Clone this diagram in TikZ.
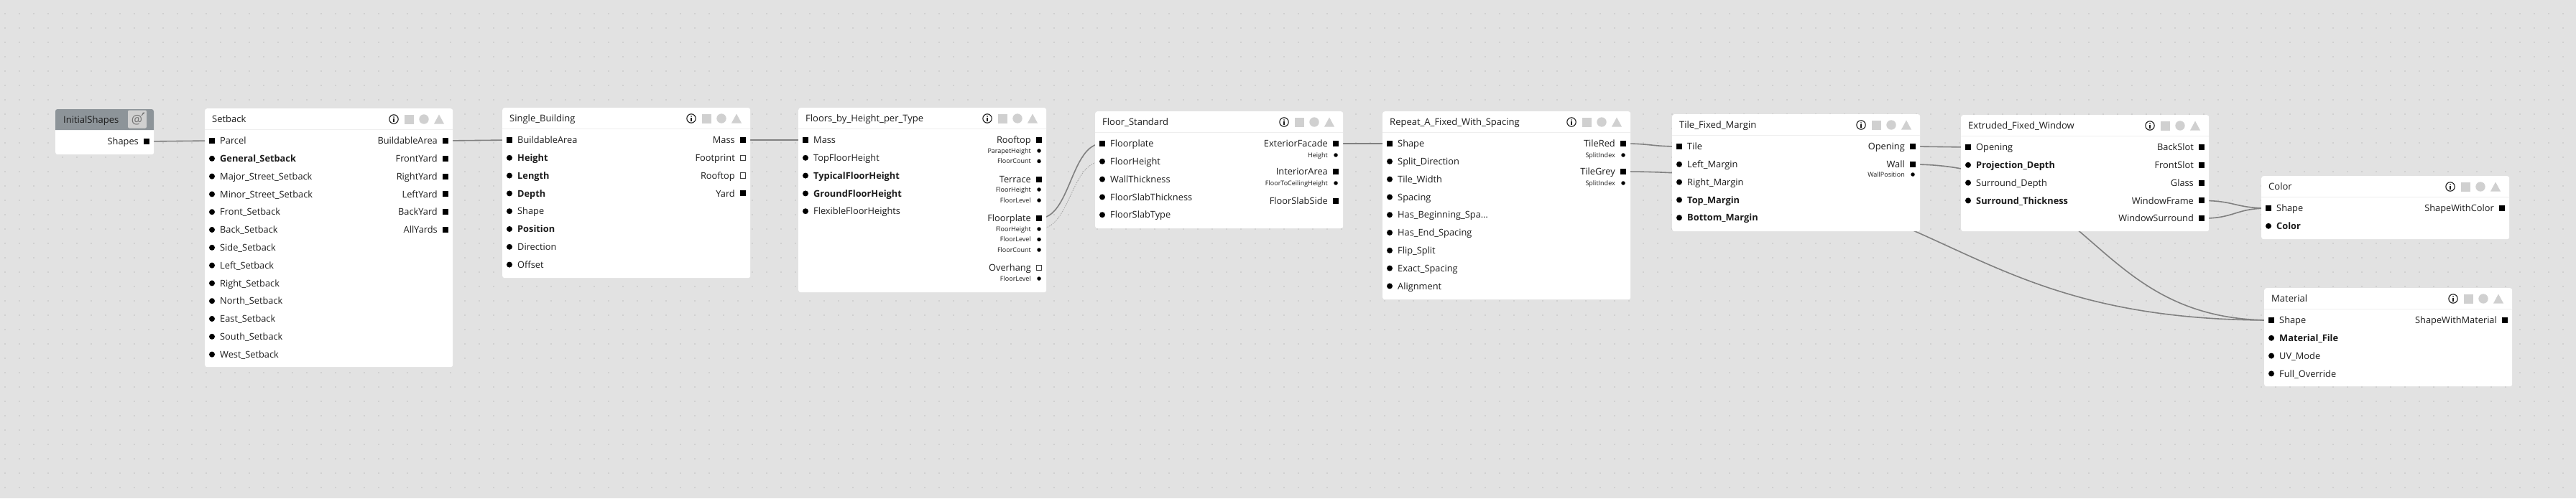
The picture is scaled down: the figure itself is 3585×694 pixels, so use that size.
\documentclass[tikz,border=0pt]{standalone}
\usepackage{fontspec}
\setmainfont{Open Sans}
\usetikzlibrary{positioning, arrows.meta}
\definecolor{CanvasGrey}{RGB}{226, 226, 226}
\definecolor{GridDot}{RGB}{184, 184, 184}
\definecolor{WireGrey}{RGB}{128, 128, 128}
\definecolor{IconGrey}{RGB}{208, 208, 208}
\definecolor{InkBlack}{RGB}{28, 28, 28}
\definecolor{HeadGrey}{RGB}{141, 148, 153}
\definecolor{RuleGrey}{RGB}{238, 238, 238}
\newcommand\rowfont{\fontsize{12.8}{15}\selectfont}
\newcommand\subfont{\fontsize{9}{11}\selectfont}
\newcommand\ttlfont{\fontsize{13}{15}\selectfont}
\pgfdeclarelayer{canvas}
\pgfdeclarelayer{wires}
\pgfsetlayers{canvas,wires,main}

\tikzset{
  panel/.style={fill=white, rounded corners=3pt, anchor=north west, minimum width=345, inner sep=0pt},
  ttl/.style={anchor=west, inner sep=0pt, font=\ttlfont, text=InkBlack, text height=9.3, text depth=0},
  inlbl/.style={anchor=west, inner sep=0pt, font=\rowfont, text=InkBlack, text height=9.2, text depth=0},
  outlbl/.style={anchor=east, inner sep=0pt, font=\rowfont, text=InkBlack, text height=9.2, text depth=0},
  sublbl/.style={anchor=east, inner sep=0pt, font=\subfont, text=InkBlack, text height=6.5, text depth=0},
  port/.style={rectangle, fill=black, minimum size=8, inner sep=0pt},
  emptyport/.style={rectangle, draw=black!75, fill=white, line width=0.8, minimum size=7.5, inner sep=0pt},
  dot/.style={circle, fill=black, minimum size=8, inner sep=0pt},
  subdot/.style={circle, fill=black, minimum size=5.5, inner sep=0pt},
  wire/.style={draw=WireGrey, line width=1.6},
  hint/.style={draw=WireGrey!70, line width=0.9, dash pattern=on 1.5pt off 1.5pt},
  headrule/.style={draw=RuleGrey, line width=0.8},
  badges/.pic={
    \draw[InkBlack, line width=1.1] (-82,0) circle (6.2);
    \fill[InkBlack] (-82,-2.9) circle (0.9);
    \draw[InkBlack, line width=1.2] (-82,-0.8) -- (-82,3.6);
    \fill[IconGrey] (-67.5,-6.5) rectangle (-54.5,6.5);
    \fill[IconGrey] (-40,0) circle (6.7);
    \fill[IconGrey] (-26,6.5) -- (-12,6.5) -- (-19,-6.5) -- cycle;
  }
}

\begin{document}
\begin{tikzpicture}[x=1pt, y=-1pt]
\useasboundingbox (0,0) rectangle (3585,694);

% canvas with dot grid
\begin{pgfonlayer}{canvas}
  \fill[CanvasGrey] (0,0) rectangle (3585,694);
  \fill[GridDot] \foreach \gx in {7,27,...,3587} { \foreach \gy in {19,39,...,699} { (\gx-0.7,\gy-0.7) rectangle ++(1.4,1.4) } };
\end{pgfonlayer}

% InitialShapes
\begin{scope}[shift={(77,152)}]
  \node[panel, minimum width=137, minimum height=63] (initial) at (0,0) {};
  \fill[HeadGrey] (0,29) [rounded corners=3pt] -- (0,0) -- (137,0) [sharp corners] -- (137,29) -- cycle;
  \node[ttl] at (11,15) {InitialShapes};
  \fill[IconGrey, rounded corners=2pt] (101,1.5) rectangle (127,26.5);
  \node[font=\fontsize{17}{17}\selectfont, text=black!55, inner sep=0pt] at (113.5,15) {@};
  \draw[black!55, line width=1, -{Latex[length=3pt, width=3pt]}] (120,9) -- (124,4);
  \node[port] (is-shapes) at (127,45) {};
  \node[outlbl] at (116,45) {Shapes};
\end{scope}

% Setback
\begin{scope}[shift={(285,151)}]
  \node[panel, minimum height=360] (setback) at (0,0) {};
  \node[ttl] at (10,15) {Setback};
  \pic at (345,15) {badges};
  \draw[headrule] (0,29) -- (345,29);
  \node[port] (sb-parcel) at (10,45) {};
  \node[inlbl] at (21,45) {Parcel};
  \foreach \txt [count=\i] in {\textbf{General\_Setback}, Major\_Street\_Setback, Minor\_Street\_Setback, Front\_Setback, Back\_Setback, Side\_Setback, Left\_Setback, Right\_Setback, North\_Setback, East\_Setback, South\_Setback, West\_Setback}{
    \node[dot] at (10,45+24.8*\i) {};
    \node[inlbl] at (21,45+24.8*\i) {\txt};
  }
  \foreach \txt [count=\i from 0] in {BuildableArea, FrontYard, RightYard, LeftYard, BackYard, AllYards}{
    \node[port] (sb-out\i) at (335,45+24.8*\i) {};
    \node[outlbl] at (324,45+24.8*\i) {\txt};
  }
\end{scope}

% Single_Building
\begin{scope}[shift={(699,150)}]
  \node[panel, minimum height=237] (single) at (0,0) {};
  \node[ttl] at (10,15) {Single\_Building};
  \pic at (345,15) {badges};
  \draw[headrule] (0,29) -- (345,29);
  \node[port] (bd-area) at (10,45) {};
  \node[inlbl] at (21,45) {BuildableArea};
  \foreach \txt [count=\i] in {\textbf{Height}, \textbf{Length}, \textbf{Depth}, Shape, \textbf{Position}, Direction, Offset}{
    \node[dot] at (10,45+24.8*\i) {};
    \node[inlbl] at (21,45+24.8*\i) {\txt};
  }
  \node[port] (bd-mass) at (335,45) {};
  \node[outlbl] at (324,45) {Mass};
  \node[emptyport] at (335,69.8) {};
  \node[outlbl] at (324,69.8) {Footprint};
  \node[emptyport] at (335,94.6) {};
  \node[outlbl] at (324,94.6) {Rooftop};
  \node[port] at (335,119.4) {};
  \node[outlbl] at (324,119.4) {Yard};
\end{scope}

% Floors_by_Height_per_Type
\begin{scope}[shift={(1111,150)}]
  \node[panel, minimum height=257] (floors) at (0,0) {};
  \node[ttl] at (10,15) {Floors\_by\_Height\_per\_Type};
  \pic at (345,15) {badges};
  \draw[headrule] (0,29) -- (345,29);
  \node[port] (fh-mass) at (10,45) {};
  \node[inlbl] at (21,45) {Mass};
  \foreach \txt [count=\i] in {TopFloorHeight, \textbf{TypicalFloorHeight}, \textbf{GroundFloorHeight}, FlexibleFloorHeights}{
    \node[dot] at (10,45+24.8*\i) {};
    \node[inlbl] at (21,45+24.8*\i) {\txt};
  }
  \foreach \y/\txt/\k/\l/\nm in {45/Rooftop/port/outlbl/fh-rooftop, 60/ParapetHeight/subdot/sublbl/fh-parapet, 74.5/FloorCount/subdot/sublbl/fh-rcount,
      99.5/Terrace/port/outlbl/fh-terrace, 114/FloorHeight/subdot/sublbl/fh-theight, 129/FloorLevel/subdot/sublbl/fh-tlevel,
      154/Floorplate/port/outlbl/fh-floorplate, 169/FloorHeight/subdot/sublbl/fh-fpheight, 183.5/FloorLevel/subdot/sublbl/fh-fplevel, 198/FloorCount/subdot/sublbl/fh-fpcount,
      223/Overhang/emptyport/outlbl/fh-overhang, 238/FloorLevel/subdot/sublbl/fh-olevel}{
    \node[\k] (\nm) at (335,\y) {};
    \node[\l] at (324,\y) {\txt};
  }
\end{scope}

% Floor_Standard
\begin{scope}[shift={(1524,155)}]
  \node[panel, minimum height=163] (floorstd) at (0,0) {};
  \node[ttl] at (10,15) {Floor\_Standard};
  \pic at (345,15) {badges};
  \draw[headrule] (0,29) -- (345,29);
  \node[port] (fs-floorplate) at (10,45) {};
  \node[inlbl] at (21,45) {Floorplate};
  \node[dot] (fs-floorheight) at (10,69.8) {};
  \node[inlbl] at (21,69.8) {FloorHeight};
  \foreach \txt [count=\i from 2] in {WallThickness, FloorSlabThickness, FloorSlabType}{
    \node[dot] at (10,45+24.8*\i) {};
    \node[inlbl] at (21,45+24.8*\i) {\txt};
  }
  \node[port] (fs-facade) at (335,45) {};
  \node[outlbl] at (324,45) {ExteriorFacade};
  \node[subdot] at (335,61) {};
  \node[sublbl] at (324,61) {Height};
  \node[port] at (335,84) {};
  \node[outlbl] at (324,84) {InteriorArea};
  \node[subdot] at (335,100) {};
  \node[sublbl] at (324,100) {FloorToCeilingHeight};
  \node[port] at (335,125) {};
  \node[outlbl] at (324,125) {FloorSlabSide};
\end{scope}

% Repeat_A_Fixed_With_Spacing
\begin{scope}[shift={(1924,155)}]
  \node[panel, minimum height=262] (repeat) at (0,0) {};
  \node[ttl] at (10,15) {Repeat\_A\_Fixed\_With\_Spacing};
  \pic at (345,15) {badges};
  \draw[headrule] (0,29) -- (345,29);
  \node[port] (rp-shape) at (10,45) {};
  \node[inlbl] at (21,45) {Shape};
  \foreach \txt [count=\i] in {Split\_Direction, Tile\_Width, Spacing, Has\_Beginning\_Spa…, Has\_End\_Spacing, Flip\_Split, Exact\_Spacing, Alignment}{
    \node[dot] at (10,45+24.8*\i) {};
    \node[inlbl] at (21,45+24.8*\i) {\txt};
  }
  \node[port] (rp-red) at (335,45) {};
  \node[outlbl] at (324,45) {TileRed};
  \node[subdot] at (335,61) {};
  \node[sublbl] at (324,61) {SplitIndex};
  \node[port] (rp-grey) at (335,84) {};
  \node[outlbl] at (324,84) {TileGrey};
  \node[subdot] at (335,100) {};
  \node[sublbl] at (324,100) {SplitIndex};
\end{scope}

% Tile_Fixed_Margin
\begin{scope}[shift={(2327,159)}]
  \node[panel, minimum height=163] (tile) at (0,0) {};
  \node[ttl] at (10,15) {Tile\_Fixed\_Margin};
  \pic at (345,15) {badges};
  \draw[headrule] (0,29) -- (345,29);
  \node[port] (tm-tile) at (10,45) {};
  \node[inlbl] at (21,45) {Tile};
  \foreach \txt [count=\i] in {Left\_Margin, Right\_Margin, \textbf{Top\_Margin}, \textbf{Bottom\_Margin}}{
    \node[dot] at (10,45+24.8*\i) {};
    \node[inlbl] at (21,45+24.8*\i) {\txt};
  }
  \node[port] (tm-opening) at (335,45) {};
  \node[outlbl] at (324,45) {Opening};
  \node[port] (tm-wall) at (335,70) {};
  \node[outlbl] at (324,70) {Wall};
  \node[subdot] at (335,84) {};
  \node[sublbl] at (324,84) {WallPosition};
\end{scope}

% Extruded_Fixed_Window
\begin{scope}[shift={(2729,160)}]
  \node[panel, minimum height=162] (window) at (0,0) {};
  \node[ttl] at (10,15) {Extruded\_Fixed\_Window};
  \pic at (345,15) {badges};
  \draw[headrule] (0,29) -- (345,29);
  \node[port] (ew-opening) at (10,45) {};
  \node[inlbl] at (21,45) {Opening};
  \foreach \txt [count=\i] in {\textbf{Projection\_Depth}, Surround\_Depth, \textbf{Surround\_Thickness}}{
    \node[dot] at (10,45+24.8*\i) {};
    \node[inlbl] at (21,45+24.8*\i) {\txt};
  }
  \foreach \txt/\nm [count=\i from 0] in {BackSlot/ew-back, FrontSlot/ew-front, Glass/ew-glass, WindowFrame/ew-frame, WindowSurround/ew-surround}{
    \node[port] (\nm) at (335,45+24.8*\i) {};
    \node[outlbl] at (324,45+24.8*\i) {\txt};
  }
\end{scope}

% Color
\begin{scope}[shift={(3147,245)}]
  \node[panel, minimum height=88] (color) at (0,0) {};
  \node[ttl] at (10,15) {Color};
  \pic at (345,15) {badges};
  \draw[headrule] (0,29) -- (345,29);
  \node[port] (cl-shape) at (10,45) {};
  \node[inlbl] at (21,45) {Shape};
  \node[dot] at (10,69.8) {};
  \node[inlbl] at (21,69.8) {\textbf{Color}};
  \node[port] at (335,45) {};
  \node[outlbl] at (324,45) {ShapeWithColor};
\end{scope}

% Material
\begin{scope}[shift={(3151,401)}]
  \node[panel, minimum height=137] (material) at (0,0) {};
  \node[ttl] at (10,15) {Material};
  \pic at (345,15) {badges};
  \draw[headrule] (0,29) -- (345,29);
  \node[port] (mt-shape) at (10,45) {};
  \node[inlbl] at (21,45) {Shape};
  \foreach \txt [count=\i] in {\textbf{Material\_File}, UV\_Mode, Full\_Override}{
    \node[dot] at (10,45+24.8*\i) {};
    \node[inlbl] at (21,45+24.8*\i) {\txt};
  }
  \node[port] at (335,45) {};
  \node[outlbl] at (324,45) {ShapeWithMaterial};
\end{scope}

% connectors
\begin{pgfonlayer}{wires}
  \draw[wire] (is-shapes.center) .. controls +(45,0) and +(-45,0) .. (sb-parcel.center);
  \draw[wire] (sb-out0.center) .. controls +(44,0) and +(-44,0) .. (bd-area.center);
  \draw[wire] (bd-mass.center) .. controls +(43,0) and +(-43,0) .. (fh-mass.center);
  \draw[wire] (fh-floorplate.center) .. controls +(44,0) and +(-44,0) .. (fs-floorplate.center);
  \draw[hint] (fh-fpheight.center) .. controls +(44,0) and +(-44,0) .. (fs-floorheight.center);
  \draw[wire] (fs-facade.center) .. controls +(38,0) and +(-38,0) .. (rp-shape.center);
  \draw[wire] (rp-red.center) .. controls +(39,0) and +(-39,0) .. (tm-tile.center);
  \draw[wire] (rp-grey.center) .. controls +(451,0) and +(-451,0) .. (mt-shape.center);
  \draw[wire] (tm-opening.center) .. controls +(38,0) and +(-38,0) .. (ew-opening.center);
  \draw[wire] (tm-wall.center) .. controls +(250,0) and +(-250,0) .. (mt-shape.center);
  \draw[wire] (ew-frame.center) .. controls +(47,0) and +(-47,0) .. (cl-shape.center);
  \draw[wire] (ew-surround.center) .. controls +(47,0) and +(-47,0) .. (cl-shape.center);
\end{pgfonlayer}
\end{tikzpicture}
\end{document}
